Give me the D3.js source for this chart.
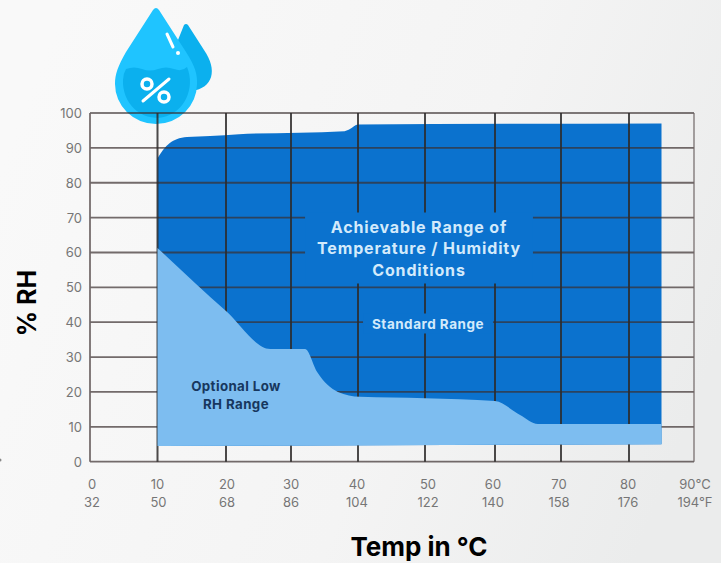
<!DOCTYPE html>
<html lang="en">
<head>
  <meta charset="UTF-8" />
  <title>Temperature / Humidity Range</title>
  <script src="https://d3js.org/d3.v7.min.js"></script>
  <style>
    html, body { margin: 0; padding: 0; background: #f6f6f6; }
    svg { display: block; font-family: Inter, "Open Sans", sans-serif; }
    .tick-label { fill: #767676; font-size: 13px; text-anchor: middle; }
    .axis-title { fill: #000; font-weight: 700; text-anchor: middle; }
    .inner-label { font-weight: 700; text-anchor: middle; }
  </style>
</head>
<body>
  <svg width="721" height="563"></svg>

  <script>
    // Values
    const celsiusTicks = [0, 10, 20, 30, 40, 50, 60, 70, 80, 90];
    const celsiusLabels = ["0", "10", "20", "30", "40", "50", "60", "70", "80", "90°C"];
    const fahrenheitLabels = ["32", "50", "68", "86", "104", "122", "140", "158", "176", "194°F"];
    const rhTicks = [0, 10, 20, 30, 40, 50, 60, 70, 80, 90, 100];

    // upper edge of the achievable range
    const upperTemp = [10, 10.8, 11.8, 12.8, 14.3, 17.7, 22, 38, 38.8, 40, 85];
    const upperRh = [87, 89.4, 91.4, 92.5, 93.1, 93.4, 93.9, 94.8, 95.4, 96.7, 97];

    // upper edge of the optional low RH range = lower edge of the standard range
    const lowTemp = [10, 20, 26.8, 32.1, 33.9, 37, 40.3, 50, 60, 63.8, 66.5, 85];
    const lowRh = [61.3, 43.2, 32.3, 32.3, 25.7, 20, 18.6, 18.2, 17.4, 13.4, 10.8, 10.8];

    // floor of the whole range
    const floorTemp = [10, 85];
    const floorRh = [4.5, 5];

    const svg = d3.select("svg");

    const defs = svg.append("defs");
    const bg = defs.append("linearGradient").attr("id", "bg")
      .attr("x1", "0").attr("y1", "0.3").attr("x2", "1").attr("y2", "0.6");
    bg.append("stop").attr("offset", "0").attr("stop-color", "#f9f9f9");
    bg.append("stop").attr("offset", "0.6").attr("stop-color", "#f4f4f4");
    bg.append("stop").attr("offset", "1").attr("stop-color", "#ebecec");
    svg.append("rect").attr("width", 721).attr("height", 563).attr("fill", "url(#bg)");

    // the printed grid is slightly uneven, so the scale is piecewise
    const x = d3.scaleLinear()
      .domain(celsiusTicks)
      .range([90, 157.5, 226, 291, 358, 425, 495, 561, 629, 694]);
    const y = d3.scaleLinear().domain([0, 100]).range([461.7, 113]);

    const upper = upperTemp.map((t, i) => [t, upperRh[i]]);
    const low = lowTemp.map((t, i) => [t, lowRh[i]]);
    const floor = floorTemp.map((t, i) => [t, floorRh[i]]);

    const curve = d3.line().x(d => x(d[0])).y(d => y(d[1])).curve(d3.curveMonotoneX);
    const straight = d3.line().x(d => x(d[0])).y(d => y(d[1]));

    // curved top edge + straight floor, closed
    const outline = top => curve(top) + straight(floor.slice().reverse()).replace(/^M/, "L") + "Z";

    // water drop icon (sits under the grid's top line)
    const icon = svg.append("g");
    icon.append("path").attr("fill", "#0bb0ee")
      .attr("d", "M184 25 Q186 23 188 25 L204 50 C218 70 213 88 192 91 L170 60 Z");
    icon.append("path").attr("fill", "#1fc4ff")
      .attr("d", "M153 10 Q156 6 159 10 L186 52 C195 66 197.500 74 197 84 A41 40 0 0 1 115 84 C115 74 118 66 126 52 Z");
    icon.append("path").attr("fill", "#0bb0ee")
      .attr("d", "M126 69 Q134 66 142 69 T158 69 T174 69 T187 67 A33.500 36 0 1 1 123 80 Q123 74 126 69 Z");
    icon.append("line").attr("x1", 167).attr("y1", 34).attr("x2", 173).attr("y2", 47)
      .attr("stroke", "#fff").attr("stroke-width", 3).attr("stroke-linecap", "round");
    icon.append("circle").attr("cx", 178).attr("cy", 53).attr("r", 2).attr("fill", "#fff");
    icon.append("line").attr("x1", 143).attr("y1", 101).attr("x2", 169).attr("y2", 79)
      .attr("stroke", "#fff").attr("stroke-width", 3).attr("stroke-linecap", "round");
    icon.append("circle").attr("cx", 147).attr("cy", 84).attr("r", 5)
      .attr("fill", "none").attr("stroke", "#fff").attr("stroke-width", 3.500);
    icon.append("circle").attr("cx", 164).attr("cy", 97).attr("r", 5)
      .attr("fill", "none").attr("stroke", "#fff").attr("stroke-width", 3.500);

    // standard range, full outline
    svg.append("path").attr("fill", "#0b72ce").attr("d", outline(upper));

    // grid
    const grid = svg.append("g").attr("fill", "none");
    grid.selectAll("line.h").data(rhTicks).enter().append("line")
      .attr("class", "h")
      .attr("x1", x(0)).attr("x2", x(90))
      .attr("y1", d => y(d)).attr("y2", d => y(d))
      .attr("stroke", "#3a2f2f")
      .attr("stroke-opacity", d => (d === 100 ? 0.85 : 0.7))
      .attr("stroke-width", d => (d === 100 ? 1.4 : 1.8));
    grid.selectAll("line.v").data(celsiusTicks).enter().append("line")
      .attr("class", "v")
      .attr("x1", d => x(d)).attr("x2", d => x(d))
      .attr("y1", y(100)).attr("y2", y(0))
      .attr("stroke", d => (d === 0 || d === 90 ? "#6f6565" : "#2d2a2a"))
      .attr("stroke-opacity", 0.85)
      .attr("stroke-width", d => (d === 90 ? 1.4 : 2));

    // optional low RH range goes over the grid
    svg.append("path").attr("fill", "#7dbdf0").attr("d", outline(low));

    // tick labels
    svg.selectAll("text.rh").data(rhTicks).enter().append("text")
      .attr("class", "tick-label rh")
      .attr("x", 82)
      .attr("y", d => y(d) + 5)
      .style("text-anchor", "end")
      .text(d => d);

    const celsiusNudge = [2, 0, 1, 0, -1, 3, -2, -2, -1, 1];
    svg.selectAll("text.c").data(celsiusLabels).enter().append("text")
      .attr("class", "tick-label c")
      .attr("x", (d, i) => x(celsiusTicks[i]) + celsiusNudge[i])
      .attr("y", 489)
      .text(d => d);
    svg.selectAll("text.f").data(fahrenheitLabels).enter().append("text")
      .attr("class", "tick-label f")
      .attr("x", (d, i) => x(celsiusTicks[i]) + celsiusNudge[i] + (i === 1 ? 1 : 0))
      .attr("y", 507)
      .text(d => d);

    // axis titles
    svg.append("text").attr("class", "axis-title")
      .attr("transform", "translate(36,303) rotate(-90)")
      .style("font-size", "25px")
      .text("% RH");
    svg.append("text").attr("class", "axis-title")
      .attr("x", 419).attr("y", 556)
      .style("font-size", "26px")
      .text("Temp in °C");

    // labels inside the chart; the white ones blank out the grid behind them
    function label(lines, cx, top, size, lead, spacing, color, padX, padY) {
      const g = svg.append("g");
      const t = g.append("text").attr("class", "inner-label")
        .attr("fill", color)
        .style("font-size", size + "px")
        .style("letter-spacing", spacing + "px");
      lines.forEach((s, i) => {
        t.append("tspan").attr("x", cx).attr("y", top + i * lead).text(s);
      });
      if (padX) {
        const b = t.node().getBBox();
        g.insert("rect", "text")
          .attr("x", b.x - padX).attr("y", b.y - padY)
          .attr("width", b.width + padX * 2).attr("height", b.height + padY * 2)
          .attr("fill", "#0b72ce");
      }
    }
    label(["Achievable Range of", "Temperature / Humidity", "Conditions"], 419, 232.5, 16, 21.5, 0.85, "#d3eafb", 12, 4);
    label(["Standard Range"], 428, 328.5, 13.5, 0, 0.5, "#d3eafb", 9, 2);
    label(["Optional Low", "RH Range"], 236, 391, 13.3, 18, 0.4, "#17375e");

    // stray speck at the left edge of the source image
    svg.append("circle").attr("cx", 0).attr("cy", 460).attr("r", 1.5).attr("fill", "#888");
  </script>
</body>
</html>
